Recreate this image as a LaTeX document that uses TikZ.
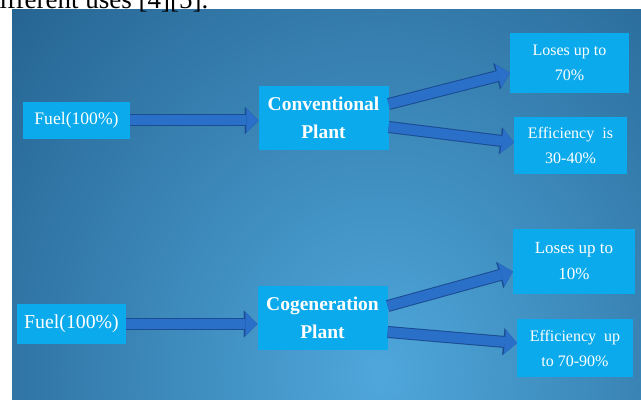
\documentclass[tikz,border=0pt]{standalone}
\usepackage{fontspec}
\setmainfont{Liberation Serif}
\usetikzlibrary{arrows.meta}
\definecolor{bgdark}{HTML}{19507C}
\definecolor{bglight}{HTML}{4FA7DB}
\definecolor{boxblue}{HTML}{0BAAEC}
\definecolor{arrowblue}{HTML}{2A6FC8}
\definecolor{arrowdark}{HTML}{1A4C92}

\begin{document}
\begin{tikzpicture} [x=1pt, y=1pt,
                     stage/.style= {fill=boxblue, text=white,
                                    align=center, inner sep=0pt},
                     note/.style= {stage, font=\fontsize{16}{25}\selectfont},
                     plant/.style= {stage, font=\bfseries\fontsize{19.5}{28}\selectfont,
                                    minimum width=130pt, minimum height=64pt},
                     flow/.style= {draw=arrowblue, line width=10pt,
                                   -{Triangle[length=12pt,width=24pt,line width=0.1pt]},
                                   preaction={draw=arrowdark, line width=12pt,
                                   -{Triangle[length=13.5pt,width=27pt,line width=0.1pt]}}}]

\useasboundingbox (0,0) rectangle (641,403);

\fill[bgdark] (12,3) rectangle (641,393);
\begin{scope}
\clip (12,3) rectangle (641,393);
\shade[inner color=bglight, outer color=bgdark] (380,30) ellipse (640 and 720);
\end{scope}

\begin{scope}
\clip (0,0) rectangle (641,403);
\node[anchor=base west, inner sep=0pt, font=\fontsize{27}{30}\selectfont] (caption) at (-14,394.5) {different uses [4][5].};
\end{scope}



\node[stage, font=\fontsize{17.6}{20}\selectfont, minimum width=107pt, minimum height=37pt] (fuelA) at (76.5,282.5) {Fuel(100\%)};
\node[plant] (conv) at (323.5,285) {Conventional\\Plant};
\node[note, minimum width=119pt, minimum height=60pt] (loseA) at (569.5,340) {Loses up to\\70\%};
\node[note, minimum width=113pt, minimum height=57pt] (effA) at (570.5,257.5) {Efficiency~ is\\30-40\%};

\node[stage, font=\fontsize{19.8}{22}\selectfont, minimum width=109pt, minimum height=40pt] (fuelB) at (71.5,79) {Fuel(100\%)};
\node[plant] (cogen) at (322.5,85) {Cogeneration\\Plant};
\node[note, font=\fontsize{17}{26}\selectfont, minimum width=122pt, minimum height=65pt] (loseB) at (574,141.5) {Loses up to\\10\%};
\node[note, minimum width=116pt, minimum height=58pt] (effB) at (575,55) {Efficiency~ up\\to 70-90\%};


\draw[flow] (fuelA.east) -- (fuelA.east -| conv.west);
\draw[flow] ([yshift=14pt]conv.east) -- ([yshift=-10pt]loseA.west);
\draw[flow] ([yshift=-9pt]conv.east) -- ([yshift=3pt]effA.west);

\draw[flow] (fuelB.east) -- (fuelB.east -| cogen.west);
\draw[flow] ([yshift=12pt]cogen.east) -- ([yshift=-10pt]loseB.west);
\draw[flow] ([yshift=-14pt]cogen.east) -- ([yshift=5pt]effB.west);

\end{tikzpicture}
\end{document}
